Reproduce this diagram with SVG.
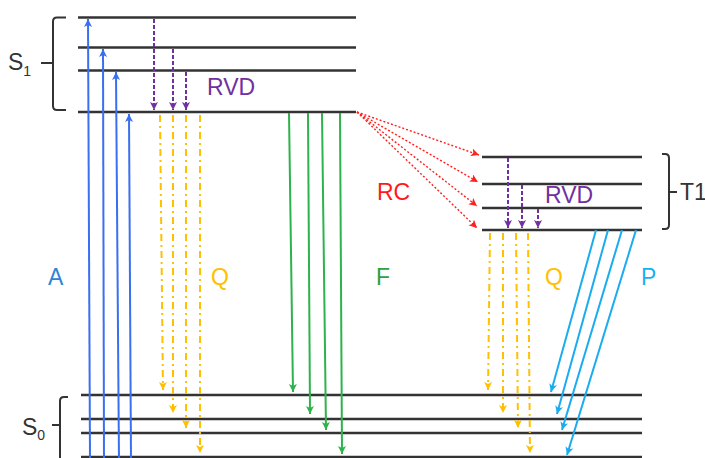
<svg xmlns="http://www.w3.org/2000/svg" width="705" height="458" viewBox="0 0 705 458">
<style>
.lvl{stroke:#333;stroke-width:2.5;fill:none}
.brace{stroke:#333;stroke-width:2;fill:none}
.lbl{font-family:"Liberation Sans",Arial,sans-serif;font-size:23px}
.a{stroke:#3a6ff2;stroke-width:2;fill:none;marker-end:url(#mA)}
.rvd{stroke:#7030a0;stroke-width:2;fill:none;stroke-dasharray:4 2;marker-end:url(#mV)}
.q{stroke:#ffc000;stroke-width:2;fill:none;stroke-dasharray:7 4 2 4;marker-end:url(#mQ)}
.f{stroke:#2db34a;stroke-width:2;fill:none;marker-end:url(#mF)}
.rc{stroke:#ff2020;stroke-width:1.4;fill:none;stroke-dasharray:2 2;marker-end:url(#mR)}
.p{stroke:#1aabf0;stroke-width:2;fill:none;marker-end:url(#mP)}
</style>
<defs>
<marker id="mA" markerUnits="userSpaceOnUse" markerWidth="9" markerHeight="9" refX="8" refY="4" orient="auto"><path d="M0,0 L8,4 L0,8 L2,4 Z" fill="#3a6ff2"/></marker>
<marker id="mV" markerUnits="userSpaceOnUse" markerWidth="9" markerHeight="9" refX="8" refY="4" orient="auto"><path d="M0,0 L8,4 L0,8 L2,4 Z" fill="#7030a0"/></marker>
<marker id="mQ" markerUnits="userSpaceOnUse" markerWidth="9" markerHeight="9" refX="8" refY="4" orient="auto"><path d="M0,0 L8,4 L0,8 L2,4 Z" fill="#ffc000"/></marker>
<marker id="mF" markerUnits="userSpaceOnUse" markerWidth="9" markerHeight="9" refX="8" refY="4" orient="auto"><path d="M0,0 L8,4 L0,8 L2,4 Z" fill="#2db34a"/></marker>
<marker id="mR" markerUnits="userSpaceOnUse" markerWidth="9" markerHeight="9" refX="8" refY="4" orient="auto"><path d="M0,0 L8,4 L0,8 L2,4 Z" fill="#ff2020"/></marker>
<marker id="mP" markerUnits="userSpaceOnUse" markerWidth="9" markerHeight="9" refX="8" refY="4" orient="auto"><path d="M0,0 L8,4 L0,8 L2,4 Z" fill="#1aabf0"/></marker>
</defs>

<g id="S1">
<line class="lvl" x1="78" y1="17.5" x2="356" y2="17.5"/>
<line class="lvl" x1="78" y1="47.5" x2="356" y2="47.5"/>
<line class="lvl" x1="78" y1="70.5" x2="356" y2="70.5"/>
<line class="lvl" x1="78" y1="112" x2="356" y2="112"/>
<path class="brace" d="M66,17.5 H57 Q53,17.5 53,21.5 V63 H41 M53,63 V106 Q53,110 57,110 H66"/>
<text class="lbl" x="8" y="70" fill="#333">S<tspan font-size="14" dy="6">1</tspan></text>
</g>

<g id="S0">
<line class="lvl" x1="81" y1="395" x2="642" y2="395"/>
<line class="lvl" x1="81" y1="419" x2="642" y2="419"/>
<line class="lvl" x1="81" y1="433" x2="642" y2="433"/>
<line class="lvl" x1="81" y1="457" x2="642" y2="457"/>
<path class="brace" d="M68,397 H64 Q60,397 60,401 V425 H52 M60,425 V462"/>
<text class="lbl" x="22" y="435" fill="#333">S<tspan font-size="14" dy="5">0</tspan></text>
</g>

<g id="T1">
<line class="lvl" x1="482" y1="157" x2="642" y2="157"/>
<line class="lvl" x1="482" y1="184" x2="642" y2="184"/>
<line class="lvl" x1="482" y1="208" x2="642" y2="208"/>
<line class="lvl" x1="482" y1="230" x2="642" y2="230"/>
<path class="brace" d="M662,154 H665 Q669,154 669,158 V192 H677 M669,192 V225 Q669,229 665,229 H662"/>
<text class="lbl" x="680" y="200" fill="#333" font-size="20">T1</text>
</g>

<g id="connectors">
<line class="a" x1="90" y1="462" x2="88" y2="19"/>
<line class="a" x1="104" y1="462" x2="103" y2="49"/>
<line class="a" x1="119" y1="462" x2="116" y2="72"/>
<line class="a" x1="131" y1="462" x2="129" y2="114"/>

<line class="rvd" x1="154" y1="19" x2="154" y2="110"/>
<line class="rvd" x1="173" y1="49" x2="173" y2="110"/>
<line class="rvd" x1="186" y1="72" x2="186" y2="110"/>

<line class="q" x1="160" y1="115" x2="163" y2="390"/>
<line class="q" x1="173" y1="115" x2="173" y2="413"/>
<line class="q" x1="186" y1="115" x2="186" y2="428"/>
<line class="q" x1="200" y1="115" x2="200" y2="453"/>

<line class="f" x1="289" y1="113" x2="293" y2="392"/>
<line class="f" x1="308" y1="113" x2="310" y2="414"/>
<line class="f" x1="322" y1="113" x2="326" y2="430"/>
<line class="f" x1="340" y1="113" x2="342" y2="454"/>

<line class="rc" x1="357" y1="112" x2="479" y2="155"/>
<line class="rc" x1="357" y1="112" x2="478" y2="182"/>
<line class="rc" x1="357" y1="112" x2="477" y2="206"/>
<line class="rc" x1="357" y1="112" x2="477" y2="228"/>

<line class="rvd" x1="508" y1="158" x2="508" y2="228"/>
<line class="rvd" x1="522" y1="185" x2="522" y2="228"/>
<line class="rvd" x1="538" y1="209" x2="538" y2="228"/>

<line class="q" x1="490" y1="233" x2="488" y2="390"/>
<line class="q" x1="503" y1="233" x2="503" y2="413"/>
<line class="q" x1="516" y1="233" x2="518" y2="428"/>
<line class="q" x1="528" y1="233" x2="530" y2="453"/>

<line class="p" x1="596" y1="230" x2="551" y2="392"/>
<line class="p" x1="608" y1="230" x2="557" y2="414"/>
<line class="p" x1="622" y1="230" x2="562" y2="430"/>
<line class="p" x1="636" y1="230" x2="567" y2="455"/>
</g>

<g id="labels">
<text class="lbl" x="48" y="285" fill="#2e86d1">A</text>
<text class="lbl" x="211" y="285" fill="#ffc000">Q</text>
<text class="lbl" x="376" y="285" fill="#2ba23c">F</text>
<text class="lbl" x="545" y="285" fill="#ffc000">Q</text>
<text class="lbl" x="641" y="285" fill="#1ab0ef">P</text>
<text class="lbl" x="207" y="95" fill="#7030a0">RVD</text>
<text class="lbl" x="545" y="203" fill="#7030a0">RVD</text>
<text class="lbl" x="377" y="200" fill="#ff1a1a">RC</text>
</g>
</svg>
